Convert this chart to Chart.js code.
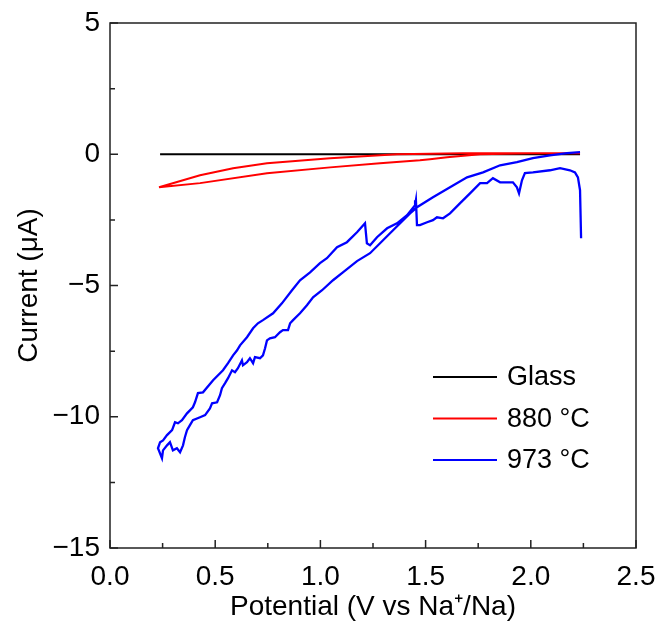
<!DOCTYPE html>
<html>
<head>
<meta charset="utf-8">
<script src="https://cdn.jsdelivr.net/npm/chart.js@4.4.1/dist/chart.umd.min.js"></script>
<style>
	html, body {margin: 0; padding: 0; background: #fff;}
	#wrap {width: 659px; height: 628px;}
</style>
</head>
<body>
<div id="wrap"><canvas id="cv"></canvas></div>
<script>
// cyclic voltammograms, values

var seriesLabels = ['Glass', '880 °C', '973 °C'];
var seriesColours = ['#000000', '#ff0000', '#0000ff'];

var glassV = [0.238, 2.234];
var glassI = [0, 0];

var redV = [2.234, 1.678, 1.364, 1.046, 0.746, 0.585, 0.428, 0.233,
	0.428, 0.746, 1.046, 1.283, 1.473, 1.521, 1.602, 1.759, 1.996, 2.234];
var redI = [0.04, 0.04, 0.0, -0.15, -0.34, -0.53, -0.80, -1.26,
	-1.10, -0.72, -0.50, -0.34, -0.23, -0.19, -0.11, 0.0, 0.04, 0.04];

var blueV = [2.239, 2.234, 2.224, 2.210, 2.186, 2.139, 2.091, 2.010, 1.972, 1.958, 1.944, 1.934, 1.915,
	1.887, 1.854, 1.820, 1.792, 1.759, 1.711, 1.663, 1.616, 1.583, 1.554, 1.535, 1.507, 1.473, 1.459,
	1.454, 1.450, 1.412, 1.364, 1.317, 1.269, 1.236, 1.221, 1.212,
	1.174, 1.126, 1.079, 1.031, 0.998, 0.951, 0.903, 0.865, 0.817, 0.775, 0.727, 0.703, 0.680, 0.651,
	0.618, 0.604, 0.585, 0.561, 0.537, 0.490, 0.442, 0.418, 0.404, 0.394, 0.366, 0.342, 0.323, 0.309,
	0.295, 0.271, 0.252, 0.238, 0.228, 0.247,
	0.252, 0.271, 0.285, 0.299, 0.318, 0.333, 0.347, 0.356, 0.366, 0.380, 0.394, 0.428, 0.452, 0.475,
	0.485, 0.509, 0.523, 0.532, 0.547, 0.561, 0.580, 0.594, 0.608, 0.627, 0.632, 0.651, 0.665, 0.680,
	0.689, 0.713, 0.727, 0.737, 0.746, 0.760, 0.784, 0.808, 0.822, 0.846, 0.856, 0.870, 0.903, 0.936,
	0.965, 1.008, 1.060, 1.107, 1.174, 1.236, 1.331, 1.426, 1.459, 1.535, 1.616, 1.697, 1.773, 1.854,
	1.934, 2.010, 2.091, 2.172, 2.234];
var blueI = [-3.20, -1.37, -0.88, -0.69, -0.61, -0.53, -0.61, -0.69, -0.72, -0.99, -1.49, -1.26, -1.07,
	-1.07, -1.07, -0.91, -1.10, -1.10, -1.49, -1.87, -2.25, -2.44, -2.40, -2.51, -2.59, -2.70, -2.70,
	-1.75, -1.94, -2.32, -2.63, -2.82, -3.16, -3.47, -3.39, -2.63,
	-2.97, -3.35, -3.54, -3.96, -4.15, -4.50, -4.80, -5.18, -5.68, -6.06, -6.32, -6.44, -6.63, -6.97,
	-7.28, -7.47, -7.66, -7.96, -8.23, -8.61, -9.07, -9.10, -9.45, -9.64, -9.87, -10.13, -10.25, -10.21,
	-10.51, -10.70, -10.90, -10.97, -11.20, -11.58,
	-11.28, -11.09, -10.97, -11.28, -11.20, -11.35, -11.09, -10.78, -10.51, -10.32, -10.13, -10.02, -9.94, -9.68,
	-9.49, -9.45, -9.18, -8.91, -8.72, -8.53, -8.23, -8.30, -8.15, -7.85, -8.04, -7.92, -7.77, -7.96,
	-7.73, -7.77, -7.66, -7.39, -7.09, -7.01, -6.97, -6.78, -6.70, -6.70, -6.44, -6.32, -6.06, -5.75,
	-5.45, -5.18, -4.80, -4.50, -4.07, -3.77, -3.01, -2.25, -2.02, -1.64, -1.26, -0.88, -0.69, -0.42,
	-0.30, -0.15, -0.04, 0.04, 0.08];

var xTicks = [0, 0.5, 1.0, 1.5, 2.0, 2.5];
var yTicks = [-15, -10, -5, 0, 5];

function toPoints(vs, is)
{
	return vs.map(function (v, i) {return {x: v, y: is[i]}});
}

var fontFamily = '"Liberation Sans", Arial, sans-serif';

// frame, inward major/minor ticks and the legend inside the plot
var framePlugin =
{
	id: 'frame',
	afterDraw: function (chart)
	{
		var ctx = chart.ctx;
		var area = chart.chartArea;
		var xs = chart.scales.x;
		var ys = chart.scales.y;

		ctx.save();
		ctx.strokeStyle = '#222';
		ctx.lineWidth = 1.5;
		ctx.strokeRect(area.left, area.top, area.right - area.left, area.bottom - area.top);

		ctx.beginPath();
		var v, p, len;
		for (v = 0; v <= 2.5001; v += 0.25)
		{
			p = xs.getPixelForValue(v);
			len = (Math.round(v * 4) % 2 == 0) ? 8 : 5;
			ctx.moveTo(p, area.bottom);
			ctx.lineTo(p, area.bottom - len);
		}
		for (v = -15; v <= 5.001; v += 2.5)
		{
			p = ys.getPixelForValue(v);
			len = (Math.round(v / 2.5) % 2 == 0) ? 8 : 5;
			ctx.moveTo(area.left, p);
			ctx.lineTo(area.left + len, p);
		}
		ctx.stroke();

		var lx = area.left + 323;
		var ly = area.top + 354;
		ctx.font = '27px ' + fontFamily;
		ctx.textBaseline = 'middle';
		ctx.textAlign = 'left';
		chart.data.datasets.forEach(function (ds, i)
		{
			var y = ly + i * 41.5;
			ctx.strokeStyle = ds.borderColor;
			ctx.lineWidth = 2;
			ctx.beginPath();
			ctx.moveTo(lx, y);
			ctx.lineTo(lx + 64, y);
			ctx.stroke();
			ctx.fillStyle = '#000';
			ctx.fillText(ds.label, lx + 74, y + 1);
		});
		ctx.restore();
	}
};

var datasets = [
	{label: seriesLabels[0], data: toPoints(glassV, glassI), borderColor: seriesColours[0], order: 3, borderWidth: 2},
	{label: seriesLabels[1], data: toPoints(redV, redI), borderColor: seriesColours[1], order: 2, borderWidth: 2},
	{label: seriesLabels[2], data: toPoints(blueV, blueI), borderColor: seriesColours[2], order: 1, borderWidth: 2.3}
];

datasets.forEach(function (ds)
{
	ds.showLine = true;
	ds.pointRadius = 0;
	ds.tension = 0;
	ds.fill = false;
});

new Chart(document.getElementById('cv'),
{
	type: 'scatter',
	data: {datasets: datasets},
	options:
	{
		responsive: true,
		maintainAspectRatio: false,
		animation: false,
		layout: {padding: {left: 0, top: 23, right: 23, bottom: 0}},
		plugins:
		{
			legend: {display: false},
			tooltip: {enabled: false}
		},
		scales:
		{
			x:
			{
				type: 'linear',
				min: 0,
				max: 2.5,
				afterBuildTicks: function (scale) {scale.ticks = xTicks.map(function (v) {return {value: v}})},
				afterFit: function (scale)
				{
					scale.height = 80;
					scale.paddingLeft = 0;
					scale.paddingRight = 0;
				},
				grid: {display: false, drawTicks: false},
				border: {display: false},
				ticks:
				{
					padding: 12,
					color: '#000',
					maxRotation: 0,
					font: {family: fontFamily, size: 28},
					callback: function (value) {return Number(value).toFixed(1)}
				},
				title:
				{
					display: true,
					text: 'Potential (V vs Na⁺/Na)',
					color: '#000',
					font: {family: fontFamily, size: 28},
					padding: {top: 0, bottom: 4}
				}
			},
			y:
			{
				type: 'linear',
				min: -15,
				max: 5,
				afterBuildTicks: function (scale) {scale.ticks = yTicks.map(function (v) {return {value: v}})},
				afterFit: function (scale)
				{
					scale.width = 110;
					scale.paddingTop = 0;
					scale.paddingBottom = 0;
				},
				grid: {display: false, drawTicks: false},
				border: {display: false},
				ticks:
				{
					padding: 10,
					color: '#000',
					font: {family: fontFamily, size: 28},
					callback: function (value) {return String(value).replace('-', '\u2212')}
				},
				title:
				{
					display: true,
					text: 'Current (μA)',
					color: '#000',
					font: {family: fontFamily, size: 28},
					padding: {top: 12, bottom: 0}
				}
			}
		}
	},
	plugins: [framePlugin]
});
</script>
</body>
</html>
